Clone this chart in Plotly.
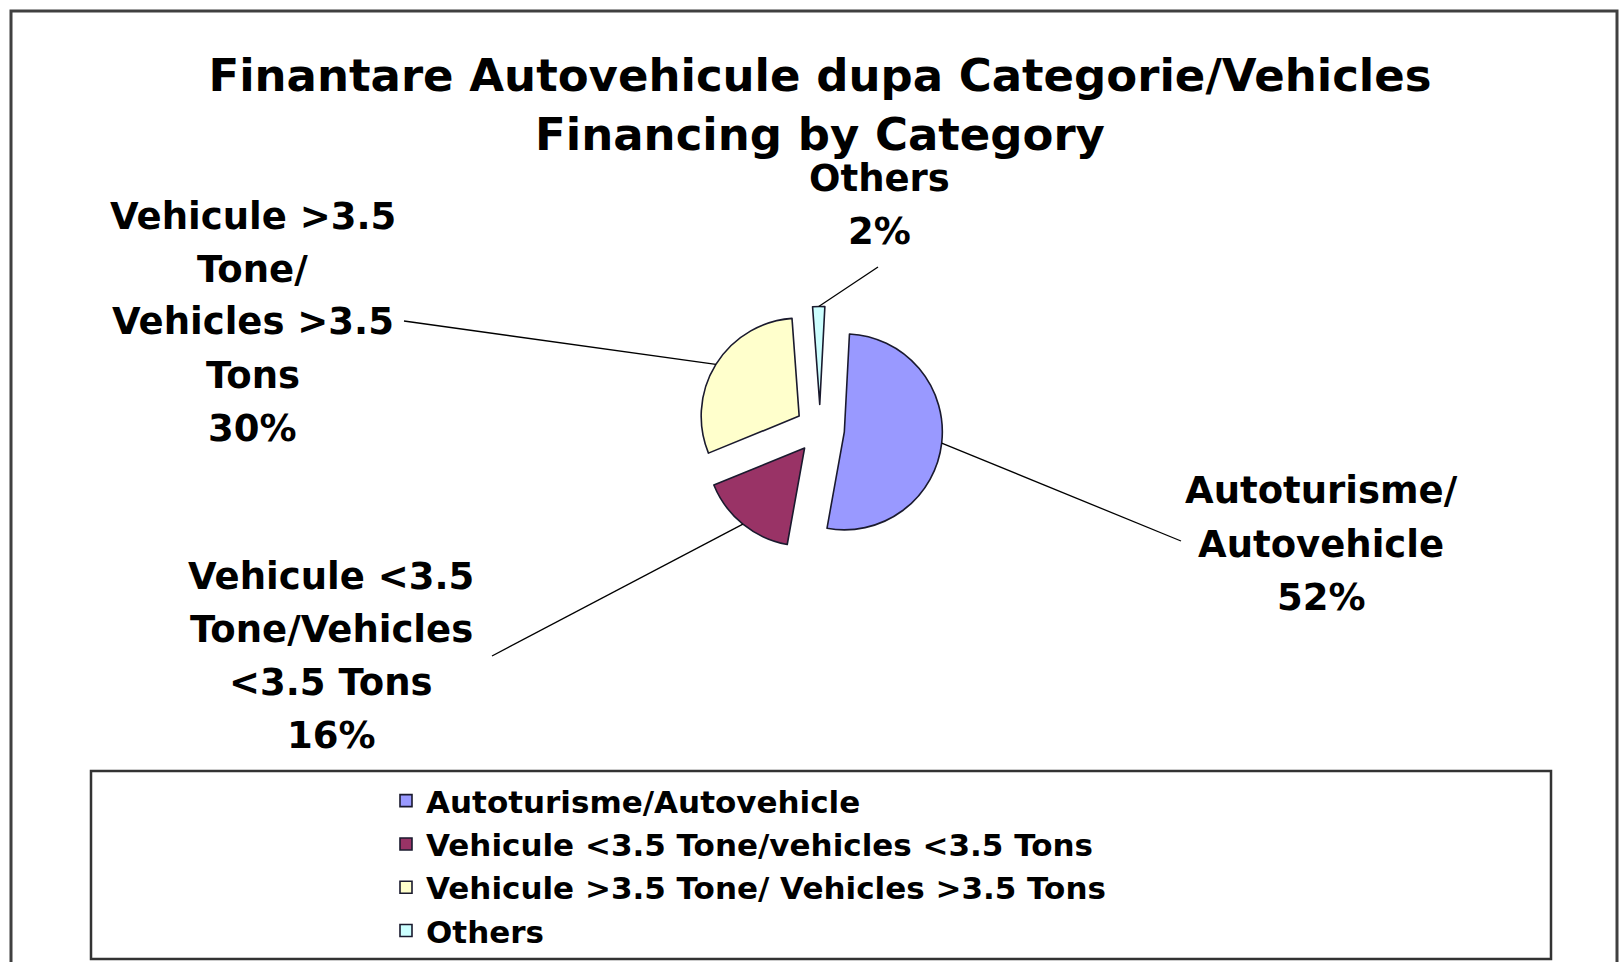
import math
import plotly.graph_objects as go

# ---- data ----
legend_labels = [
    "Autoturisme/Autovehicle",
    "Vehicule <3.5 Tone/vehicles <3.5 Tons",
    "Vehicule >3.5 Tone/ Vehicles >3.5 Tons",
    "Others",
]
slice_text = [
    ["Autoturisme/", "Autovehicle"],
    ["Vehicule <3.5", "Tone/Vehicles", "<3.5 Tons"],
    ["Vehicule >3.5", "Tone/", "Vehicles >3.5", "Tons"],
    ["Others"],
]
values = [52, 16, 30, 2]
colors = ["#9999FF", "#993366", "#FFFFCC", "#CCFFFF"]

# ---- layout constants (pixels) ----
W, H = 1624, 962
CX, CY = 820, 429          # pie centre
R = 98                     # pie radius
PULL = 0.25
ROT = 3                    # start angle, degrees clockwise from 12 o'clock
HALF = R * (1 + PULL)

# label block centres, line spacing and leader-line start points
label_pos = [(1321, 544), (331, 656), (253, 322), (879, 205)]
LINE_GAP = 53
leader_start = [(1181, 541), (492, 656), (404, 321), (878, 267)]

FONT = "DejaVu Sans"


def px(x):
    return x / W


def py(y):
    return 1 - y / H


fig = go.Figure()
fig.add_trace(go.Pie(
    labels=legend_labels,
    values=values,
    sort=False,
    direction="clockwise",
    rotation=ROT,
    pull=[PULL] * len(values),
    marker=dict(colors=colors, line=dict(color="#1a1a2e", width=1.6)),
    textinfo="none",
    hoverinfo="label+percent",
    domain=dict(x=[px(CX - HALF), px(CX + HALF)], y=[py(CY + HALF), py(CY - HALF)]),
    showlegend=True,
))

total = sum(values)
annotations = []
shapes = []
cum = 0.0
for i, v in enumerate(values):
    mid = math.radians(ROT + (cum + v / 2) / total * 360)
    cum += v
    ex = CX + R * (1 + PULL) * math.sin(mid)
    ey = CY - R * (1 + PULL) * math.cos(mid)
    sx, sy = leader_start[i]
    shapes.append(dict(type="line", xref="paper", yref="paper",
                       x0=px(sx), y0=py(sy), x1=px(ex), y1=py(ey),
                       line=dict(color="#000000", width=1.3)))
    pct = round(v / total * 100)
    lines = slice_text[i] + [f"{pct}%"]
    lx, ly = label_pos[i]
    n = len(lines)
    for k, line in enumerate(lines):
        yk = ly + (k - (n - 1) / 2) * LINE_GAP
        annotations.append(dict(
            x=px(lx), y=py(yk), xref="paper", yref="paper",
            text=line, showarrow=False,
            xanchor="center", yanchor="middle", align="center",
            font=dict(family=FONT, size=37, color="#000000", weight="bold"),
        ))

# outer chart border and legend box
shapes.append(dict(type="rect", xref="paper", yref="paper",
                   x0=px(11), y0=py(11), x1=px(1617), y1=py(990),
                   line=dict(color="#404040", width=3)))
shapes.append(dict(type="rect", xref="paper", yref="paper",
                   x0=px(91), y0=py(771), x1=px(1551), y1=py(959),
                   line=dict(color="#333333", width=2.5)))

fig.update_layout(
    width=W, height=H,
    margin=dict(l=0, r=0, t=0, b=0),
    paper_bgcolor="#FFFFFF",
    plot_bgcolor="#FFFFFF",
    title=dict(
        text="Finantare Autovehicule dupa Categorie/Vehicles<br>Financing by Category",
        x=px(820), xanchor="center", y=py(91), yanchor="middle",
        xref="paper", yref="paper",
        font=dict(family=FONT, size=45, color="#000000", weight="bold"),
    ),
    legend=dict(
        x=px(386), y=py(774), xanchor="left", yanchor="top",
        font=dict(family=FONT, size=31, color="#000000", weight="bold"),
        bgcolor="rgba(0,0,0,0)", borderwidth=0, tracegroupgap=0,
    ),
    annotations=annotations,
    shapes=shapes,
)

fig.write_html(
    "out.html",
    config={"displayModeBar": False},
    post_script="document.body.style.margin='0';document.body.style.padding='0';",
)
